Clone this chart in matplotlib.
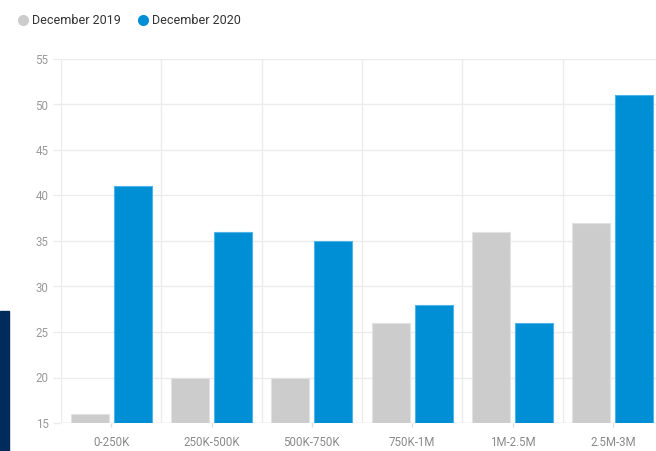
import numpy as np
import matplotlib
matplotlib.use('Agg')
import matplotlib.pyplot as plt
from matplotlib.lines import Line2D
from matplotlib.patches import Rectangle

plt.rcParams['font.family'] = ['Roboto', 'DejaVu Sans']

# data
categories = ['0-250K', '250K-500K', '500K-750K', '750K-1M', '1M-2.5M', '2.5M-3M']
dec_2019 = [16, 20, 20, 26, 36, 37]
dec_2020 = [41, 36, 35, 28, 26, 51]
series_names = ['December 2019', 'December 2020']
yticks = [15, 20, 25, 30, 35, 40, 45, 50, 55]

gray = '#cccccc'
blue = '#008fd5'
grid_c = '#ececec'

W, H = 656, 451
fig = plt.figure(figsize=(W / 100, H / 100), dpi=100)
# plot area runs a bit past the right edge, like the cropped original
ax = fig.add_axes([61 / W, (H - 423) / H, (663 - 61) / W, (423 - 59) / H])

x = np.arange(len(categories))
bw = 0.38
off = 0.215
ax.bar(x - off, dec_2019, bw, bottom=0, color=gray, edgecolor='#e2e2e2', linewidth=0.8, zorder=3)
ax.bar(x + off, dec_2020, bw, bottom=0, color=blue, edgecolor='#4fb3e6', linewidth=0.8, zorder=3)

ax.set_ylim(15, 55)
ax.set_xlim(-0.5, len(categories) - 0.5)
ax.set_yticks(yticks)
ax.set_yticklabels([str(v) for v in yticks])
ax.set_xticks(x)
ax.set_xticklabels(categories)
ax.set_xticks(np.arange(-0.5, len(categories), 1.0), minor=True)

for s in ax.spines.values():
    s.set_visible(False)

ax.grid(True, axis='y', color=grid_c, linewidth=1, zorder=0)
ax.grid(True, axis='x', which='minor', color=grid_c, linewidth=1, zorder=0)
ax.axhline(15, color='#e4e4e4', linewidth=1, zorder=1)

ax.tick_params(axis='y', length=6, color=grid_c, width=1, pad=3, labelsize=8.3, labelcolor='#9a9a9a')
ax.tick_params(axis='x', which='major', length=3, color='#dddddd', width=1, pad=6, labelsize=8.3, labelcolor='#8a8a8a')
ax.tick_params(axis='x', which='minor', length=0)

handles = [Line2D([], [], marker='o', linestyle='', markersize=8, color=gray, markeredgewidth=0),
           Line2D([], [], marker='o', linestyle='', markersize=8, color=blue, markeredgewidth=0)]
fig.legend(handles, series_names, loc='upper left', bbox_to_anchor=(4 / W, 1 - 3 / H),
           ncol=2, frameon=False, fontsize=9, handletextpad=0.1, columnspacing=1.2,
           handlelength=1.2, labelcolor='#333333')

# dark strip at lower left edge of the screenshot
fig.add_artist(Rectangle((0, 0), 9 / W, 140 / H, transform=fig.transFigure, color='#002b5c'))

fig.savefig('out.png', dpi=100)
